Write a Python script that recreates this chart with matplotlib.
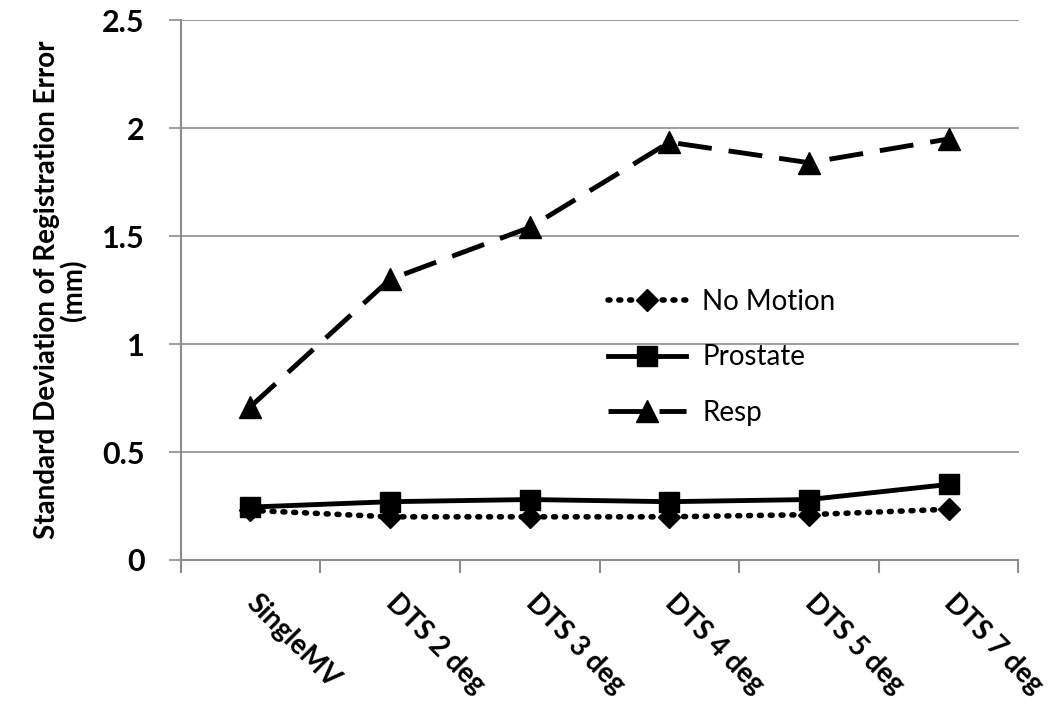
import numpy as np
import matplotlib
matplotlib.use("Agg")
import matplotlib.pyplot as plt

plt.rcParams["font.family"] = ["Lato", "DejaVu Sans"]

categories = ["SingleMV", "DTS 2 deg", "DTS 3 deg", "DTS 4 deg", "DTS 5 deg", "DTS 7 deg"]
no_motion = [0.23, 0.20, 0.20, 0.20, 0.21, 0.235]
prostate = [0.245, 0.27, 0.28, 0.27, 0.28, 0.35]
resp = [0.71, 1.30, 1.54, 1.935, 1.84, 1.95]
y_ticks = [0, 0.5, 1, 1.5, 2, 2.5]
y_tick_labels = ["0", "0.5", "1", "1.5", "2", "2.5"]

GRID = "#8c8c8c"

fig = plt.figure(figsize=(10.5, 7.14), dpi=100)
ax = fig.add_axes([0.172, 0.2157, 0.798, 0.756])

x = np.arange(len(categories))
ax.plot(x, no_motion, linestyle=(0, (0.35, 1.6)), dash_capstyle="round", color="black",
        linewidth=4, marker="D", markersize=11, label="No Motion", zorder=3)
ax.plot(x, prostate, linestyle="-", color="black", linewidth=3.5, marker="s",
        markersize=15, label="Prostate", zorder=4)
ax.plot(x, resp, linestyle=(0, (7, 3.5)), color="black", linewidth=3.5, marker="^",
        markersize=16, label="Resp", zorder=4)

ax.set_xlim(-0.5, len(categories) - 0.5)
ax.set_ylim(0, 2.5)
ax.set_yticks(y_ticks)
ax.set_yticklabels(y_tick_labels, fontsize=22, fontweight="bold")
ax.grid(axis="y", color=GRID, linewidth=1.2)
ax.set_axisbelow(True)

ax.set_xticks(x)
ax.set_xticklabels(categories, fontsize=20, fontweight="bold", rotation=-45,
                   ha="left", va="center", rotation_mode="anchor")
ax.tick_params(axis="x", which="major", length=0, pad=28)
ax.set_xticks(np.arange(-0.5, len(categories), 1), minor=True)
ax.tick_params(axis="x", which="minor", length=9, width=1.5, color=GRID)
ax.tick_params(axis="y", length=9, width=1.2, color=GRID, pad=17)

for side in ["top", "right"]:
    ax.spines[side].set_visible(False)
for side in ["left", "bottom"]:
    ax.spines[side].set_color(GRID)
    ax.spines[side].set_linewidth(1.5)

ax.set_ylabel("Standard Deviation of Registration Error\n(mm)", fontsize=20,
              fontweight="bold", labelpad=10, linespacing=1.05)

ax.legend(loc="upper left", bbox_to_anchor=(0.48, 0.548), frameon=False, fontsize=20,
          handlelength=2.8, labelspacing=1.05, handletextpad=0.6)

fig.savefig("out.png", dpi=100)
